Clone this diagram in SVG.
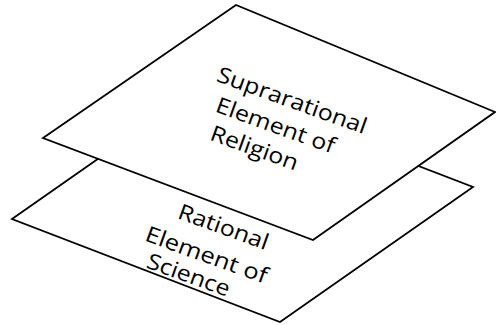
<svg xmlns="http://www.w3.org/2000/svg" width="496" height="325" viewBox="0 0 496 325">
<style>
.plane{fill:#fff;stroke:#000;stroke-width:1.8;stroke-linejoin:miter}
.lbl{font-family:"Open Sans","Liberation Sans",sans-serif;font-size:22px;fill:#000;text-anchor:middle}
</style>
<rect width="496" height="325" fill="#fff"/>
<g id="rational">
<polygon class="plane" points="12,219 205,84 473,187 280,322"/>
<text class="lbl" transform="translate(221,234) rotate(19.8) scale(1.13,1)">Rational</text>
<text class="lbl" transform="translate(204,262) rotate(19.8) scale(1.16,1)">Element of</text>
<text class="lbl" transform="translate(186,282) rotate(19.8) scale(1.13,1)">Science</text>
</g>
<g id="suprarational">
<polygon class="plane" points="43,138 236,5 495,112 313,240"/>
<text class="lbl" transform="translate(289.5,107.5) rotate(19.8) scale(1.13,1)">Suprarational</text>
<text class="lbl" transform="translate(273,132.5) rotate(19.8) scale(1.13,1)">Element of</text>
<text class="lbl" transform="translate(252,155) rotate(19.8) scale(1.13,1)">Religion</text>
</g>
</svg>
